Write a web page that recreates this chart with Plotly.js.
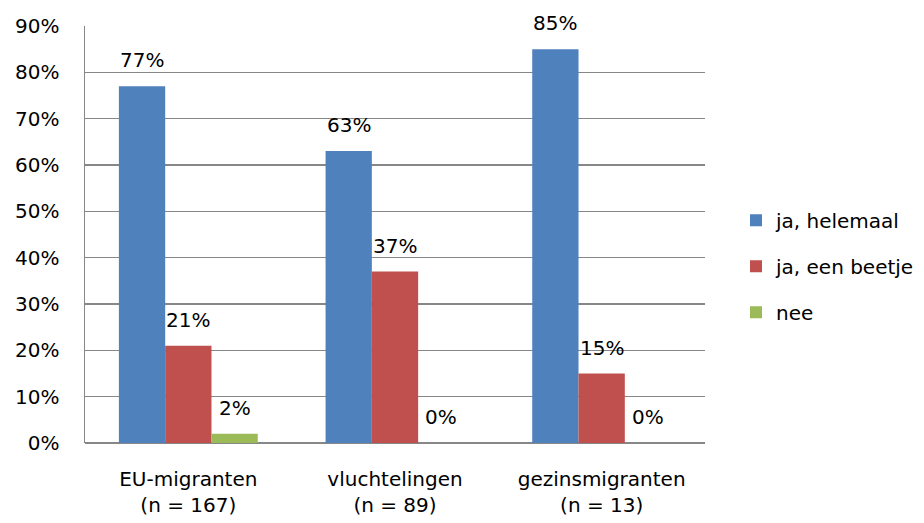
<!DOCTYPE html>
<html><head><meta charset="utf-8">
<script src="https://cdn.plot.ly/plotly-3.0.1.min.js"></script>
<style>html,body{margin:0;padding:0;background:#fff}</style>
</head><body>
<div id="chart" style="width:924px;height:523px"></div>
<script>
const categories = ["EU-migranten<br>(n = 167)", "vluchtelingen<br>(n = 89)", "gezinsmigranten<br>(n = 13)"];
const seriesNames = ["ja, helemaal", "ja, een beetje", "nee"];
const helemaal = [77, 63, 85];
const beetje = [21, 37, 15];
const nee = [2, 0, 0];
const colors = ["#4F81BD", "#C0504D", "#9BBB59"];
const FONT = "DejaVu Sans, Verdana, sans-serif";

const allSeries = [helemaal, beetje, nee];
const traces = allSeries.map((vals, i) => ({
  type: "bar",
  name: seriesNames[i],
  x: categories,
  y: vals,
  marker: {color: colors[i]},
  hoverinfo: "skip",
  legendgroup: "g" + i
}));

// value labels above each bar, placed through the axis scales
const BARW = 620 / 3 * 0.672 / 3;
const annotations = [];
allSeries.forEach((vals, i) => {
  vals.forEach((v, j) => {
    annotations.push({
      x: categories[j], y: v, xref: "x", yref: "y",
      text: v + "%", showarrow: false,
      xanchor: "center", yanchor: "bottom",
      xshift: (i - 1) * BARW, yshift: 12,
      font: {family: FONT, size: 20, color: "#000"}
    });
  });
});

const layout = {
  width: 924, height: 523,
  margin: {l: 85, r: 219, t: 26, b: 80, autoexpand: false},
  paper_bgcolor: "#fff", plot_bgcolor: "#fff",
  font: {family: FONT, size: 20, color: "#000"},
  barmode: "group",
  bargap: 0.328,
  bargroupgap: 0,
  showlegend: true,
  annotations: annotations,
  legend: {x: 1.05, y: 0.424, yanchor: "middle", xanchor: "left",
           font: {family: FONT, size: 20, color: "#000"},
           tracegroupgap: 17, itemwidth: 30},
  xaxis: {type: "category", showgrid: false, showline: false, ticks: "",
          ticklabelstandoff: 22,
          tickfont: {family: FONT, size: 20, color: "#000"}},
  yaxis: {range: [0, 90], dtick: 10, ticksuffix: "%", showgrid: true,
          gridcolor: "#878787", gridwidth: 1.5, zeroline: true, zerolinecolor: "#878787",
          zerolinewidth: 1.5, showline: true, linecolor: "#878787", linewidth: 1.5,
          ticks: "", ticklen: 0, ticklabelstandoff: 20,
          tickfont: {family: FONT, size: 20, color: "#000"}}
};

Plotly.newPlot("chart", traces, layout, {displayModeBar: false, staticPlot: true});
</script>
</body></html>
